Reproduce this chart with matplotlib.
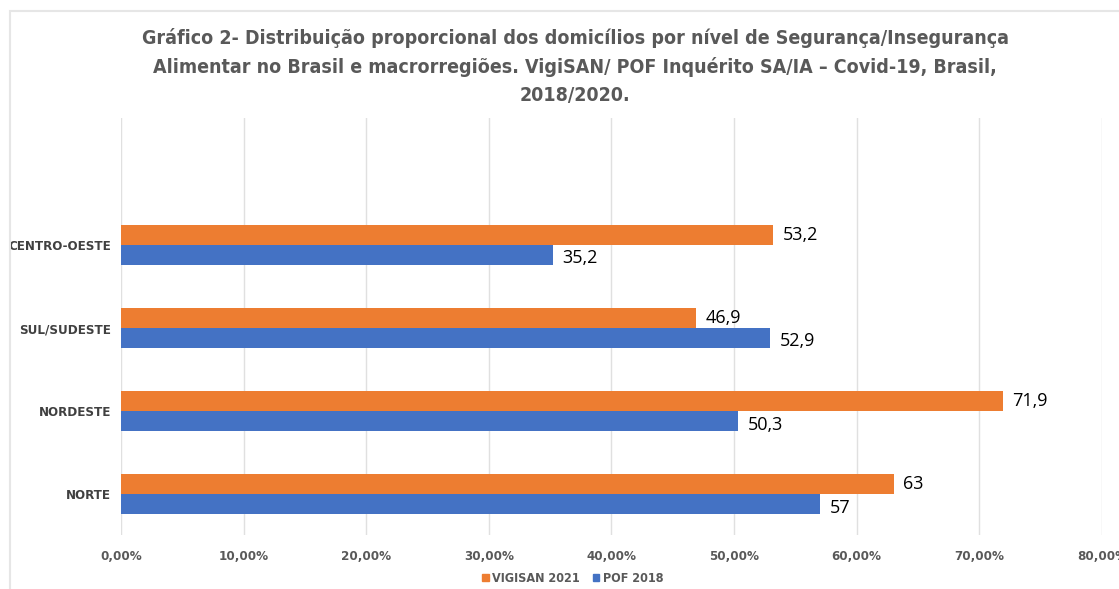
import matplotlib
matplotlib.use("Agg")
import matplotlib.pyplot as plt
from matplotlib.patches import Patch, Rectangle
from matplotlib.ticker import FuncFormatter
import numpy as np

regioes = ['NORTE', 'NORDESTE', 'SUL/SUDESTE', 'CENTRO-OESTE']
vigisan_2021 = [63, 71.9, 46.9, 53.2]
pof_2018 = [57, 50.3, 52.9, 35.2]
rotulos_vigisan = ['63', '71,9', '46,9', '53,2']
rotulos_pof = ['57', '50,3', '52,9', '35,2']

titulo = ('Gráfico 2- Distribuição proporcional dos domicílios por nível de Segurança/Insegurança\n'
          'Alimentar no Brasil e macrorregiões. VigiSAN/ POF Inquérito SA/IA – Covid-19, Brasil,\n'
          '2018/2020.')

laranja = '#ED7D31'
azul = '#4472C4'
cinza = '#595959'
fonte = 'DejaVu Sans'

fig = plt.figure(figsize=(11.19, 5.89), dpi=100)
ax = fig.add_axes([0.1081, 0.0917, 0.8767, 0.708])

# moldura clara em volta do grafico
fig.patches.append(Rectangle((10 / 1119, -0.1), 1.1, 1 - 11 / 589 + 0.1,
                             transform=fig.transFigure, fill=False,
                             edgecolor='#e6e6e6', linewidth=1.5))

y = np.arange(len(regioes))
h = 0.24
ax.barh(y + h / 2, vigisan_2021, height=h, color=laranja, label='VIGISAN 2021', zorder=3)
ax.barh(y - h / 2, pof_2018, height=h, color=azul, label='POF 2018', zorder=3)

for i in range(len(regioes)):
    ax.text(vigisan_2021[i] + 0.8, y[i] + h / 2, rotulos_vigisan[i], va='center', ha='left',
            fontsize=13, family='Open Sans', color='black')
    ax.text(pof_2018[i] + 0.8, y[i] - h / 2 - 0.04, rotulos_pof[i], va='center', ha='left',
            fontsize=13, family='Open Sans', color='black')

ax.set_xlim(0, 80)
ax.set_ylim(-0.49, 4.53)
ax.set_xticks(np.arange(0, 81, 10))
ax.xaxis.set_major_formatter(FuncFormatter(lambda v, p: f'{v:.2f}%'.replace('.', ',')))
ax.set_yticks(y)
ax.set_yticklabels(regioes)
ax.grid(axis='x', color='#e0e0e0', linewidth=1, zorder=0)
for s in ax.spines.values():
    s.set_visible(False)
ax.tick_params(axis='x', length=0, pad=11, labelsize=9.5, labelcolor=cinza)
ax.tick_params(axis='y', length=0, pad=7, labelsize=9.5, labelcolor='#404040')
for lb in ax.get_xticklabels() + ax.get_yticklabels():
    lb.set_family(fonte)
    lb.set_fontstretch('condensed')
    lb.set_fontweight('bold')

fig.text(0.514, 0.953, titulo, ha='center', va='top', fontsize=14, fontweight='bold',
         color=cinza, family=fonte, fontstretch='condensed', linespacing=1.6)

handles = [Patch(color=laranja, label='VIGISAN 2021'), Patch(color=azul, label='POF 2018')]
leg = fig.legend(handles=handles, loc='center', bbox_to_anchor=(0.512, 0.018), ncol=2,
                 frameon=False, handlelength=0.5, handleheight=0.5, handletextpad=0.3,
                 columnspacing=1.0,
                 prop={'family': fonte, 'stretch': 'condensed', 'weight': 'bold', 'size': 9})
for t in leg.get_texts():
    t.set_color(cinza)

fig.savefig('out.png', dpi=100)
